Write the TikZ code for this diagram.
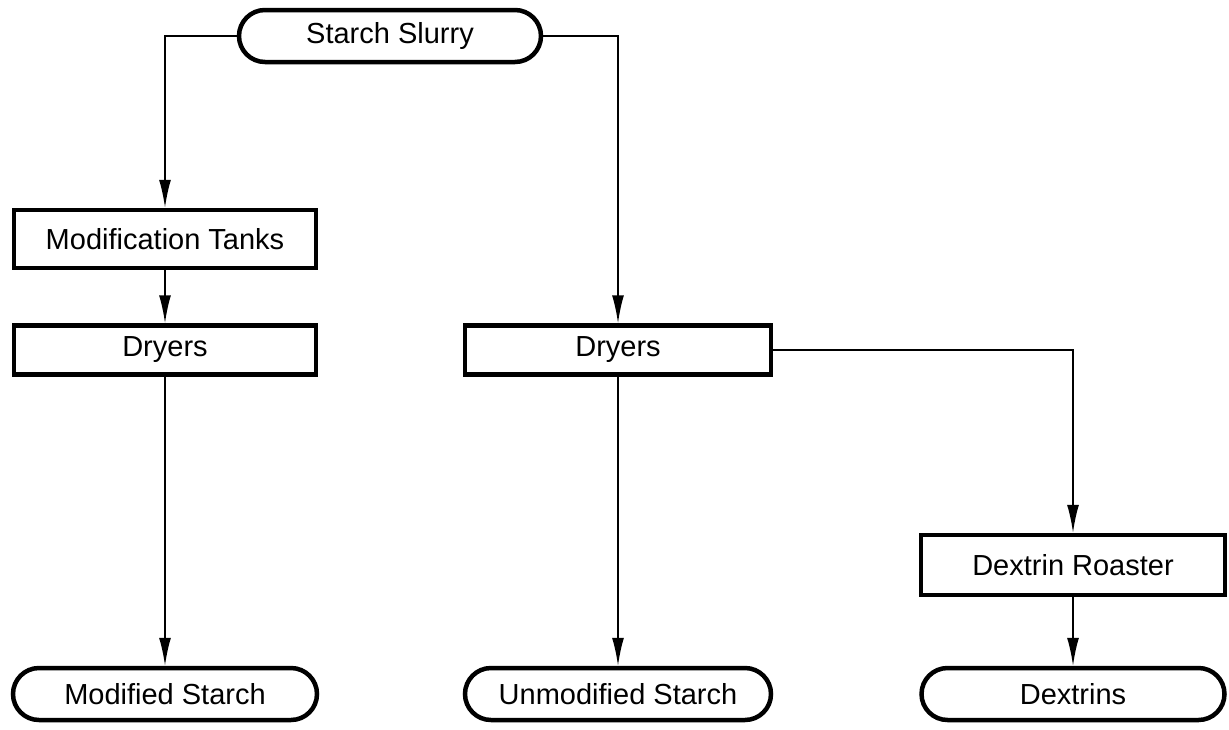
\documentclass[tikz,border=0pt]{standalone}
\usepackage{fontspec}
\setmainfont{Liberation Sans}
\usetikzlibrary{arrows.meta}
\begin{document}
\begin{tikzpicture}[x=1pt,y=-1pt,
  box/.style={draw, line width=4.5pt, minimum width=302pt, minimum height=52pt, inner sep=0pt, font=\fontsize{29}{32}\selectfont},
  pill/.style={box, rounded corners=26pt},
  conn/.style={line width=1.8pt, -{Latex[length=28pt,width=12pt]}}]
\fill[white] (0,0) rectangle (1229,729);
\useasboundingbox (0,0) rectangle (1229,729);
\node[pill, minimum width=302pt, minimum height=52pt] (slurry) at (390,36) {Starch Slurry};
\node[box, minimum width=302pt, minimum height=58pt] (modt) at (165,239) {Modification Tanks};
\node[box, minimum width=302pt, minimum height=49pt] (dryL) at (165,350) {Dryers};
\node[box, minimum width=306pt, minimum height=49pt] (dryM) at (618,350) {Dryers};
\node[box, minimum width=304pt, minimum height=60pt] (roast) at (1073,565) {Dextrin Roaster};
\node[pill, minimum width=304pt, minimum height=52pt] (modS) at (165,694) {Modified Starch};
\node[pill, minimum width=306pt, minimum height=52pt] (unmS) at (618,694) {Unmodified Starch};
\node[pill, minimum width=303pt, minimum height=52pt] (dextr) at (1073,694) {Dextrins};
\draw[conn] (slurry.west) -| (modt.north);
\draw[conn] (slurry.east) -| (dryM.north);
\draw[conn] (modt) -- (dryL);
\draw[conn] (dryL) -- (modS);
\draw[conn] (dryM) -- (unmS);
\draw[conn] (dryM.east) -| (roast.north);
\draw[conn] (roast) -- (dextr);
\end{tikzpicture}
\end{document}
